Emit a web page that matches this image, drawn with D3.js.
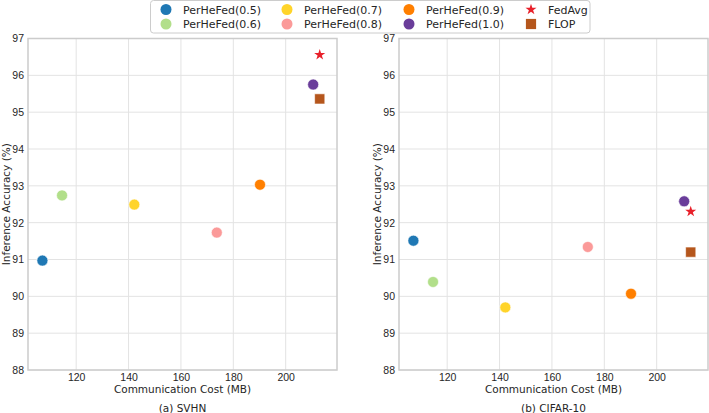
<!DOCTYPE html>
<html lang="en">
<head>
  <meta charset="UTF-8">
  <title>Communication Cost vs Inference Accuracy</title>
  <script src="https://d3js.org/d3.v7.min.js"></script>
  <style>
    body {
      margin: 0;
      background: #fff;
      font-family: "DejaVu Sans", sans-serif;
    }
    .tick text {
      fill: #262626;
      font-size: 10.5px;
    }
    .grid line {
      stroke: #e3e3e3;
    }
  </style>
</head>
<body>
  <div id="chart"></div>

  <script type="text/javascript">
    // methods, in legend order
    var methods = ['PerHeFed(0.5)', 'PerHeFed(0.6)', 'PerHeFed(0.7)', 'PerHeFed(0.8)',
                   'PerHeFed(0.9)', 'PerHeFed(1.0)', 'FedAvg', 'FLOP'];
    var commCost = [107.1, 114.6, 142.2, 173.7, 190.2, 210.5, 213.0, 213.0];
    var svhnAcc  = [90.97, 92.74, 92.49, 91.73, 93.03, 95.75, 96.56, 95.36];
    var cifarAcc = [91.51, 90.39, 89.70, 91.34, 90.07, 92.58, 92.30, 91.20];
    var yTicks = [88, 89, 90, 91, 92, 93, 94, 95, 96, 97];
    var xTicks = [120, 140, 160, 180, 200];

    var colors = ['#1f78b4', '#b2df8a', '#ffd42a', '#fb9a99', '#ff7f00', '#6a3d9a', '#e8202a', '#b5561c'];
    var shapes = ['circle', 'circle', 'circle', 'circle', 'circle', 'circle', 'star', 'square'];

    var svg = d3.select('#chart').append('svg')
      .attr('width', 709)
      .attr('height', 413);

    function symbolPath(shape) {
      if (shape == 'star') return d3.symbol().type(d3.symbolStar).size(38)();
      if (shape == 'square') return d3.symbol().type(d3.symbolSquare).size(104)();
      return d3.symbol().type(d3.symbolCircle).size(95)();
    }

    function drawPanel(left, acc, caption) {
      var top = 38.5, width = 309, height = 331.5;
      var g = svg.append('g').attr('transform', 'translate(' + left + ',' + top + ')');

      var x = d3.scaleLinear().domain([101.6, 219.6]).range([0, width]);
      var y = d3.scaleLinear().domain([88, 97]).range([height, 0]);

      // grid
      g.append('g').attr('class', 'grid')
        .selectAll('line.v').data(xTicks).enter().append('line')
        .attr('x1', function(d) { return x(d); })
        .attr('x2', function(d) { return x(d); })
        .attr('y1', 0).attr('y2', height);
      g.append('g').attr('class', 'grid')
        .selectAll('line.h').data(yTicks).enter().append('line')
        .attr('x1', 0).attr('x2', width)
        .attr('y1', function(d) { return y(d); })
        .attr('y2', function(d) { return y(d); });

      // frame
      g.append('rect')
        .attr('width', width).attr('height', height)
        .attr('fill', 'none')
        .attr('stroke', '#cccccc')
        .attr('stroke-width', 1.5);

      var xAxis = g.append('g')
        .attr('transform', 'translate(0,' + height + ')')
        .call(d3.axisBottom(x).tickValues(xTicks).tickSize(0).tickPadding(4));
      xAxis.select('.domain').remove();

      var yAxis = g.append('g')
        .call(d3.axisLeft(y).tickValues(yTicks).tickSize(0).tickPadding(4));
      yAxis.select('.domain').remove();

      g.append('text')
        .attr('transform', 'translate(' + (-18) + ',' + (height / 2) + ') rotate(-90)')
        .attr('text-anchor', 'middle')
        .attr('font-size', 10.5)
        .attr('fill', '#262626')
        .text('Inference Accuracy (%)');

      g.append('text')
        .attr('x', width / 2)
        .attr('y', height + 22.5)
        .attr('text-anchor', 'middle')
        .attr('font-size', 10.5)
        .attr('fill', '#262626')
        .text('Communication Cost (MB)');

      g.append('text')
        .attr('x', width / 2)
        .attr('y', height + 41.5)
        .attr('text-anchor', 'middle')
        .attr('font-size', 10.5)
        .attr('fill', '#262626')
        .text(caption);

      g.selectAll('path.pt')
        .data(methods)
        .enter()
        .append('path')
        .attr('class', 'pt')
        .attr('d', function(d, i) { return symbolPath(shapes[i]); })
        .attr('transform', function(d, i) {
          return 'translate(' + x(commCost[i]) + ',' + y(acc[i]) + ')';
        })
        .attr('fill', function(d, i) { return colors[i]; })
        .attr('stroke', function(d, i) { return shapes[i] == 'star' ? 'none' : '#fff'; })
        .attr('stroke-width', 0.6);
    }

    drawPanel(28, svhnAcc, '(a) SVHN');
    drawPanel(399, cifarAcc, '(b) CIFAR-10');

    // legend
    var legend = svg.append('g');
    legend.append('rect')
      .attr('x', 150.5).attr('y', 0.5)
      .attr('width', 439.5).attr('height', 32.5)
      .attr('rx', 3)
      .attr('fill', '#fff')
      .attr('stroke', '#cccccc');

    var colX = [166, 287, 409, 531];
    var rowY = [9.5, 24];
    methods.forEach(function(m, i) {
      var cx = colX[Math.floor(i / 2)], cy = rowY[i % 2];
      legend.append('path')
        .attr('d', symbolPath(shapes[i]))
        .attr('transform', 'translate(' + cx + ',' + cy + ')')
        .attr('fill', colors[i]);
      legend.append('text')
        .attr('x', cx + 17)
        .attr('y', cy + 4)
        .attr('font-size', 11)
        .attr('fill', '#262626')
        .text(m);
    });
  </script>
</body>
</html>
